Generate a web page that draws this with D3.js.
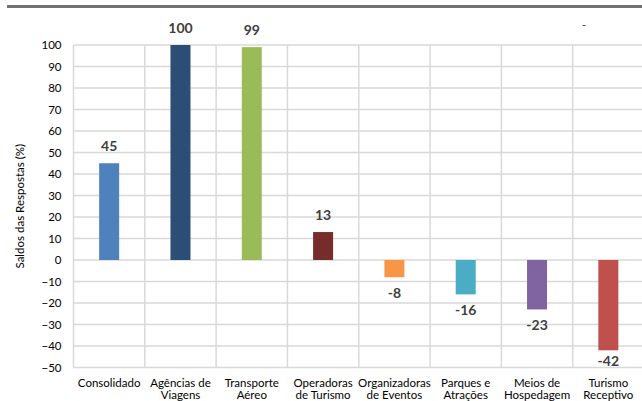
<!DOCTYPE html>
<html>
<head>
<meta charset="utf-8">
<script src="https://cdn.jsdelivr.net/npm/d3@7"></script>
<style>
  body { margin: 0; background: #fff; }
  svg { display: block; font-family: Lato, "Open Sans", sans-serif; }
</style>
</head>
<body>
<svg width="642" height="401"></svg>
<script>
// Data
var categories = [
  ["Consolidado"],
  ["Agências de", "Viagens"],
  ["Transporte", "Aéreo"],
  ["Operadoras", "de Turismo"],
  ["Organizadoras", "de Eventos"],
  ["Parques e", "Atrações"],
  ["Meios de", "Hospedagem"],
  ["Turismo", "Receptivo"]
];
var values = [45, 100, 99, 13, -8, -16, -23, -42];
var colors = ["#4f81bd", "#2c4d75", "#9bbb59", "#772c2a", "#f79646", "#4bacc6", "#8064a2", "#c0504d"];
var yTicks = d3.range(-50, 101, 10);

var svg = d3.select("svg");
var plotL = 73.5, plotR = 644, plotT = 45, plotB = 367.5;

var x = d3.scaleBand()
    .domain(d3.range(categories.length))
    .range([plotL, plotR]);

var y = d3.scaleLinear()
    .domain([-50, 100])
    .range([plotB, plotT]);

// top decorative rule
svg.append("rect")
    .attr("x", 7).attr("y", 5)
    .attr("width", 640).attr("height", 3)
    .attr("fill", "#717171");

svg.append("text")
    .attr("x", 584).attr("y", 29)
    .attr("text-anchor", "middle")
    .attr("font-size", 12)
    .attr("fill", "#404040")
    .text("-");

// grid
var grid = svg.append("g").attr("stroke", "#d9d9d9").attr("stroke-width", 1.5);
grid.selectAll(".h")
    .data(yTicks)
    .enter().append("line")
    .attr("x1", plotL).attr("x2", plotR)
    .attr("y1", d => y(d)).attr("y2", d => y(d));
grid.selectAll(".v")
    .data(d3.range(categories.length + 1))
    .enter().append("line")
    .attr("x1", d => plotL + d * x.step()).attr("x2", d => plotL + d * x.step())
    .attr("y1", plotT).attr("y2", plotB);

// y axis labels
var yAxis = svg.append("g")
    .attr("transform", "translate(" + (plotL - 12) + ",0)")
    .call(d3.axisLeft(y).tickValues(yTicks).tickSize(0).tickPadding(0));
yAxis.select(".domain").remove();
yAxis.selectAll("text")
    .attr("font-family", "Lato, sans-serif")
    .attr("font-size", 11.5)
    .attr("fill", "#000");

svg.append("text")
    .attr("transform", "translate(24," + ((plotT + plotB) / 2) + ") rotate(-90)")
    .attr("text-anchor", "middle")
    .attr("font-size", 11.5)
    .attr("fill", "#000")
    .text("Saldos das Respostas (%)");

// bars
var barW = 20;
svg.selectAll(".bar")
    .data(values)
    .enter().append("rect")
    .attr("class", "bar")
    .attr("x", (d, i) => x(i) + x.bandwidth() / 2 - barW / 2)
    .attr("y", d => y(Math.max(0, d)))
    .attr("width", barW)
    .attr("height", d => Math.abs(y(d) - y(0)))
    .attr("fill", (d, i) => colors[i]);

// value labels (kept inside the plot area, as Excel does)
svg.selectAll(".lbl")
    .data(values)
    .enter().append("text")
    .attr("x", (d, i) => x(i) + x.bandwidth() / 2)
    .attr("y", d => d >= 0 ? y(d) - 12 : Math.min(y(d) + 21, plotB - 1.5))
    .attr("text-anchor", "middle")
    .attr("font-size", 14)
    .attr("font-weight", "bold")
    .attr("fill", "#404040")
    .text(d => d);

// category labels
var cat = svg.selectAll(".cat")
    .data(categories)
    .enter().append("text")
    .attr("text-anchor", "middle")
    .attr("font-size", 11.5)
    .attr("fill", "#000")
    .attr("x", (d, i) => x(i) + x.bandwidth() / 2);
cat.selectAll("tspan")
    .data(d => d)
    .enter().append("tspan")
    .attr("x", function() { return this.parentNode.getAttribute("x"); })
    .attr("y", (d, j) => 386.5 + j * 12.5)
    .text(d => d);
</script>
</body>
</html>
